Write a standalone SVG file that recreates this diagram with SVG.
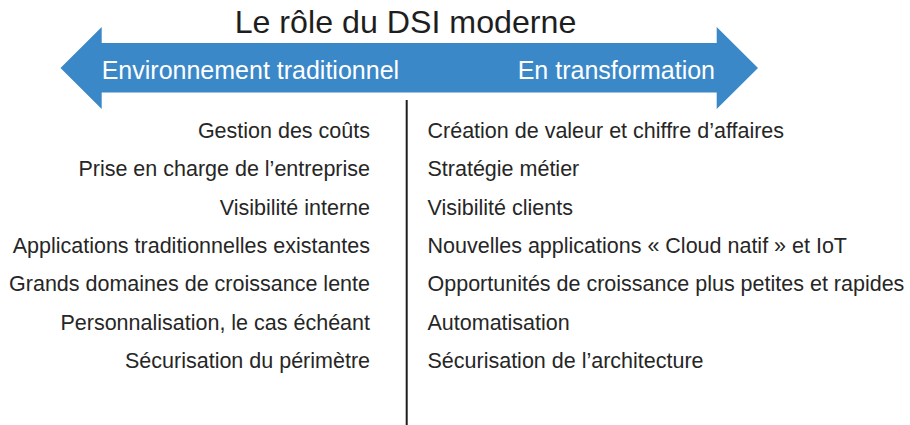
<svg xmlns="http://www.w3.org/2000/svg" width="910" height="425" viewBox="0 0 910 425">
<style>
.title{font-family:"Liberation Sans",Arial,sans-serif;font-size:32.2px;fill:#1e1e1e}
.hdr{font-family:"Liberation Sans",Arial,sans-serif;font-size:25px;fill:#ffffff}
.item{font-family:"Liberation Sans",Arial,sans-serif;font-size:21.5px;fill:#262626}
.left{text-anchor:end}
.arrow{fill:#3b88c8}
.divider{stroke:#1e1e1e;stroke-width:2}
</style>
<rect width="910" height="425" fill="#ffffff"/>
<g id="title">
<text class="title" x="405.5" y="32.5" text-anchor="middle">Le rôle du DSI moderne</text>
</g>
<g id="arrow">
<polygon class="arrow" points="60.5,68 101.7,27 101.7,43 716.7,43 716.7,27 758,68 716.7,109 716.7,92.5 101.7,92.5 101.7,109"/>
<text class="hdr" x="101.7" y="79">Environnement traditionnel</text>
<text class="hdr" x="517.7" y="79">En transformation</text>
</g>
<g id="connectors">
<line class="divider" x1="406.7" y1="100" x2="406.7" y2="425"/>
</g>
<g id="traditional">
<text class="item left" x="370" y="138">Gestion des coûts</text>
<text class="item left" x="370" y="176.3">Prise en charge de l’entreprise</text>
<text class="item left" x="370" y="214.7">Visibilité interne</text>
<text class="item left" x="370" y="253">Applications traditionnelles existantes</text>
<text class="item left" x="370" y="291.3">Grands domaines de croissance lente</text>
<text class="item left" x="370" y="329.7">Personnalisation, le cas échéant</text>
<text class="item left" x="370" y="368">Sécurisation du périmètre</text>
</g>
<g id="transformation">
<text class="item" x="427.5" y="138">Création de valeur et chiffre d’affaires</text>
<text class="item" x="427.5" y="176.3">Stratégie métier</text>
<text class="item" x="427.5" y="214.7">Visibilité clients</text>
<text class="item" x="427.5" y="253">Nouvelles applications « Cloud natif » et IoT</text>
<text class="item" x="427.5" y="291.3">Opportunités de croissance plus petites et rapides</text>
<text class="item" x="427.5" y="329.7">Automatisation</text>
<text class="item" x="427.5" y="368">Sécurisation de l’architecture</text>
</g>
</svg>
